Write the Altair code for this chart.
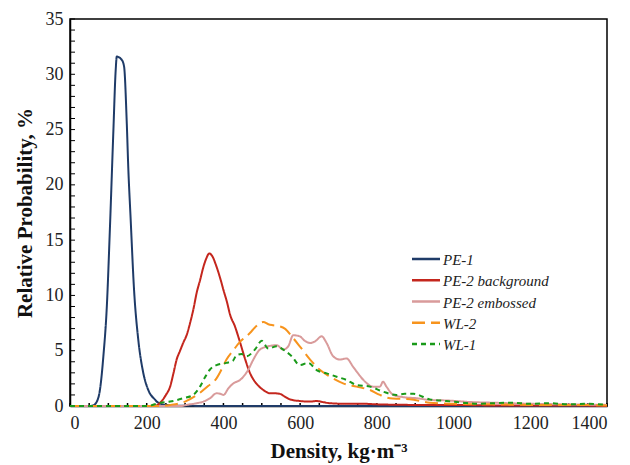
import altair as alt
import pandas as pd

# ---- data ----
pe1_x = [0, 50, 60, 70, 78, 87, 96, 104, 113, 119, 122, 135, 141, 148, 152, 158, 167, 178, 191, 204, 221, 230, 250, 300, 400, 600, 800, 1000, 1200, 1400]
pe1_y = [0, 0, 0.05, 0.4, 1.45, 4.5, 9, 16, 24.8, 30.3, 31.6, 31.3, 30.7, 25.6, 21.5, 17, 10.5, 6.0, 3.0, 1.45, 0.6, 0.3, 0.1, 0.02, 0, 0, 0, 0, 0, 0]

pe2b_x = [0, 200, 225, 235, 250, 261, 270, 278, 287, 295, 305, 313, 322, 330, 340, 348, 356, 363, 370, 382, 392, 400, 410, 417, 430, 443, 456, 469, 482, 495, 508, 521, 534, 547, 560, 573, 600, 626, 643, 660, 678, 720, 765, 800, 900, 1000, 1100, 1200, 1300, 1400]
pe2b_y = [0, 0, 0.05, 0.3, 1.0, 1.75, 3.0, 4.2, 5.0, 5.7, 6.5, 7.5, 8.8, 10.2, 11.5, 12.6, 13.4, 13.8, 13.6, 12.6, 11.5, 10.5, 9.3, 8.3, 7.2, 5.8, 4.3, 3.0, 2.2, 1.7, 1.35, 1.15, 1.15, 1.1, 0.85, 0.6, 0.45, 0.4, 0.45, 0.35, 0.25, 0.2, 0.2, 0.15, 0.1, 0.1, 0.05, 0.05, 0.05, 0]

pe2e_x = [0, 290, 304, 330, 348, 365, 382, 392, 400, 413, 426, 443, 452, 465, 478, 495, 517, 539, 556, 569, 582, 599, 612, 626, 639, 656, 669, 686, 704, 721, 738, 752, 765, 791, 808, 816, 825, 843, 869, 904, 938, 982, 1050, 1100, 1200, 1300, 1400]
pe2e_y = [0, 0, 0.1, 0.25, 0.4, 0.7, 1.15, 1.1, 1.0, 1.6, 2.05, 2.35, 2.65, 3.3, 4.2, 5.1, 5.4, 5.5, 5.1, 5.4, 6.4, 6.3, 5.9, 5.7, 5.85, 6.3, 5.7, 4.5, 4.2, 4.3, 3.55, 2.9, 2.35, 1.75, 1.75, 2.2, 1.75, 1.0, 0.8, 0.7, 0.55, 0.5, 0.35, 0.3, 0.2, 0.15, 0.1]

wl2_x = [0, 230, 261, 300, 339, 360, 382, 395, 408, 425, 443, 456, 469, 482, 495, 504, 517, 530, 547, 560, 578, 599, 626, 652, 678, 712, 747, 782, 808, 834, 860, 886, 938, 1000, 1100, 1200, 1300, 1400]
wl2_y = [0, 0, 0.1, 0.4, 1.2, 1.8, 2.5, 3.3, 4.2, 5.0, 5.8, 6.2, 6.6, 7.1, 7.5, 7.6, 7.4, 7.3, 7.2, 7.0, 6.3, 5.4, 4.2, 3.25, 2.65, 2.05, 1.75, 1.45, 1.0, 0.7, 0.65, 0.6, 0.3, 0.2, 0.15, 0.1, 0.1, 0.05]

wl1_x = [0, 200, 235, 261, 295, 321, 339, 352, 365, 382, 408, 425, 434, 447, 460, 482, 500, 517, 539, 556, 578, 599, 621, 643, 669, 695, 721, 747, 782, 816, 851, 873, 895, 938, 982, 1025, 1060, 1100, 1150, 1200, 1250, 1300, 1350, 1400]
wl1_y = [0, 0, 0.3, 0.4, 0.7, 1.0, 1.75, 2.6, 3.3, 3.7, 3.9, 4.1, 4.6, 4.7, 4.5, 5.1, 5.9, 5.2, 5.4, 5.1, 4.5, 3.7, 3.9, 3.25, 2.95, 2.65, 2.35, 1.9, 1.75, 1.3, 1.0, 1.1, 1.1, 0.6, 0.45, 0.3, 0.2, 0.25, 0.3, 0.2, 0.25, 0.15, 0.2, 0.1]

series_names = ["PE-1", "PE-2 background", "PE-2 embossed", "WL-2", "WL-1"]
series_colors = ["#1f3b68", "#c4261d", "#d99b9b", "#f7941d", "#1a9a1a"]
series_dash = [[1, 0], [1, 0], [1, 0], [13, 6], [5, 4]]

x_ticks = [0, 200, 400, 600, 800, 1000, 1200, 1400]
y_ticks = [0, 5, 10, 15, 20, 25, 30, 35]
y_minor = list(range(0, 36))
x_minor = list(range(0, 1401, 50))

# ---- build tables ----
rows = []
for name, xs, ys in zip(series_names,
                        [pe1_x, pe2b_x, pe2e_x, wl2_x, wl1_x],
                        [pe1_y, pe2b_y, pe2e_y, wl2_y, wl1_y]):
    for i, (xv, yv) in enumerate(zip(xs, ys)):
        rows.append({"series": name, "x": xv, "y": yv, "i": i})
df = pd.DataFrame(rows)
legend_df = pd.DataFrame({"series": series_names})

W, H = 537, 387
FONT = "Liberation Serif"

xscale = alt.Scale(domain=[0, 1400], nice=False)
yscale = alt.Scale(domain=[0, 35], nice=False)
cscale = alt.Scale(domain=series_names, range=series_colors)
dscale = alt.Scale(domain=series_names, range=series_dash)

lines = alt.Chart(df).mark_line(strokeWidth=2, interpolate="monotone").encode(
    x=alt.X("x:Q", scale=xscale,
            axis=alt.Axis(values=x_ticks, format="d", title="Density, kg·m⁻³", grid=False,
                          ticks=False, labelPadding=8, titlePadding=8)),
    y=alt.Y("y:Q", scale=yscale,
            axis=alt.Axis(values=y_ticks, format="d", title="Relative Probability, %", grid=False,
                          ticks=False, labelPadding=7, titlePadding=10)),
    color=alt.Color("series:N", scale=cscale, legend=None),
    strokeDash=alt.StrokeDash("series:N", scale=dscale, legend=None),
    order="i:Q",
)

ytick_df = pd.DataFrame({"v": y_minor})
yticks = alt.Chart(ytick_df).mark_rule(color="black", strokeWidth=1).encode(
    y=alt.Y("v:Q", scale=yscale, axis=None),
    x=alt.value(0), x2=alt.value(5),
)
xtick_df = pd.DataFrame({"v": x_minor})
xticks = alt.Chart(xtick_df).mark_rule(color="black", strokeWidth=1.5).encode(
    x=alt.X("v:Q", scale=xscale),
    y=alt.value(H), y2=alt.value(H - 3),
)

# manual legend (rows placed by a point scale)
leg_y = alt.Y("series:N", scale=alt.Scale(type="point", domain=series_names, range=[240, 325], padding=0), axis=None)
leg_sym = alt.Chart(legend_df).mark_rule(strokeWidth=2.5).encode(
    y=leg_y,
    x=alt.value(342), x2=alt.value(370),
    color=alt.Color("series:N", scale=cscale, legend=None),
    strokeDash=alt.StrokeDash("series:N", scale=dscale, legend=None),
)
leg_txt = alt.Chart(legend_df).mark_text(
    align="left", baseline="middle", font=FONT, fontSize=15, fontStyle="italic", color="#222", dy=1
).encode(
    y=leg_y,
    x=alt.value(373),
    text="series:N",
)
legend = alt.layer(leg_sym, leg_txt)

chart = alt.layer(yticks, xticks, lines, legend).resolve_scale(y="independent").properties(
    width=W, height=H,
    autosize=alt.AutoSizeParams(type="none"),
    padding={"left": 70, "top": 19, "right": 23, "bottom": 59},
).configure_view(
    stroke="black", strokeWidth=1.5
).configure_axis(
    domainColor="black", domainWidth=1.5,
    labelFont=FONT, labelFontSize=18, labelColor="#222",
    titleFont=FONT, titleFontSize=21, titleFontWeight="bold", titleColor="#111",
)

chart.save("out.html", embed_options={"renderer": "svg", "actions": False})
